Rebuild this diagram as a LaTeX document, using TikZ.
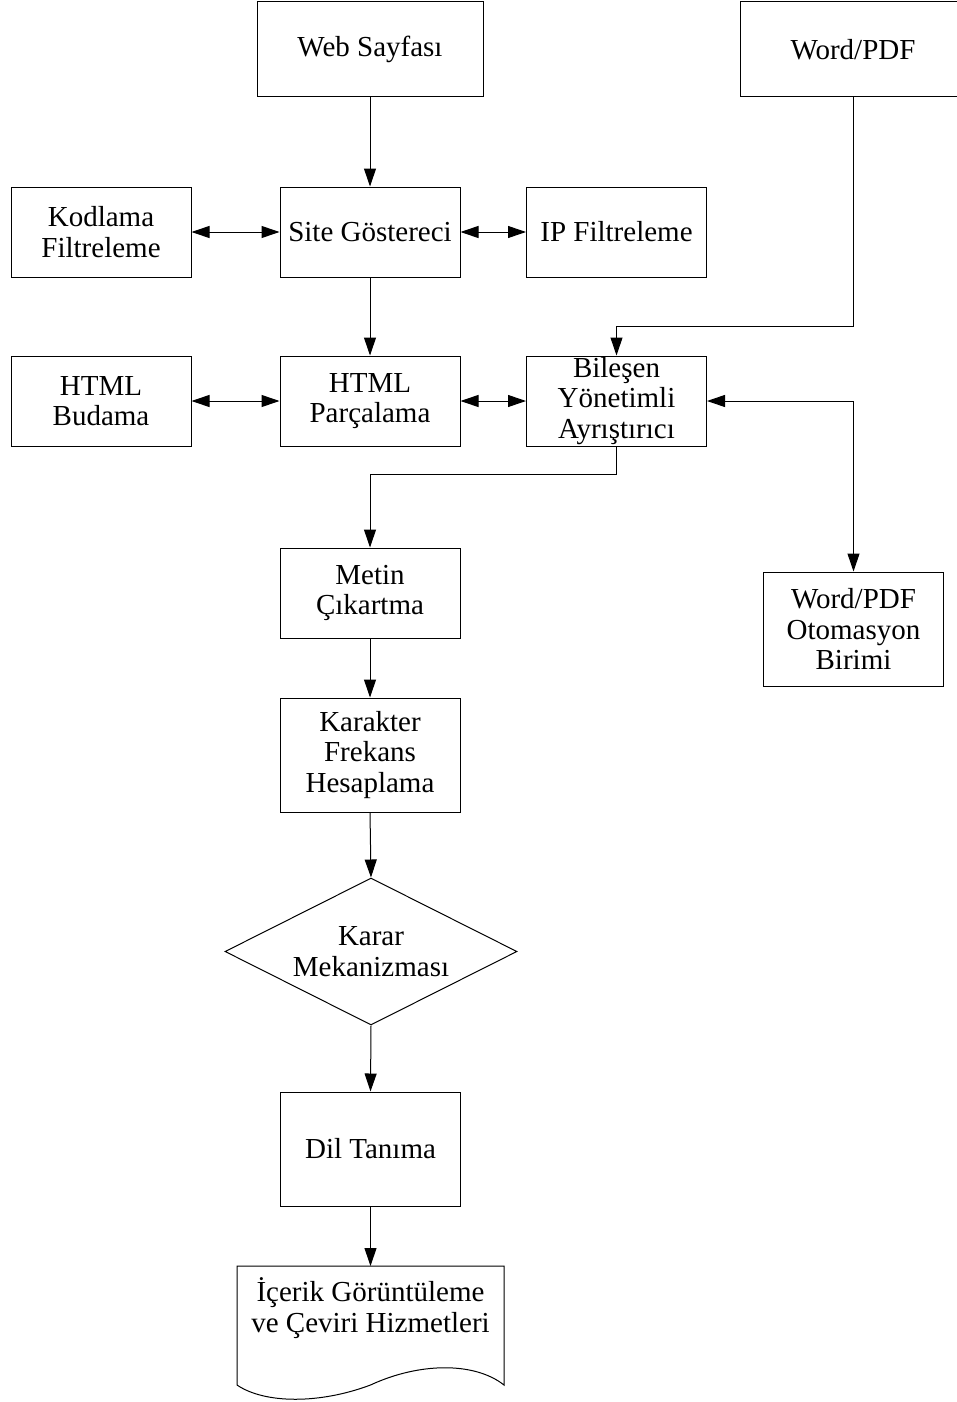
\documentclass[tikz,border=0pt]{standalone}
\usepackage{fontspec}
\setmainfont{Liberation Serif}
\usetikzlibrary{arrows.meta,shapes.geometric}

\tikzset{
  kutu/.style={draw, line width=1pt, align=center, inner sep=0pt,
    minimum width=180pt, minimum height=90pt},
  uzun/.style={kutu, minimum height=114pt},
  karar/.style={draw, line width=1pt, diamond, aspect=2, align=center, inner sep=0pt,
    minimum width=292pt, minimum height=147pt},
  ok/.style={line width=1pt, -{Triangle[length=18pt,width=12pt]}},
  ciftok/.style={line width=1pt, {Triangle[length=18pt,width=12pt]}-{Triangle[length=18pt,width=12pt]}}
}

\begin{document}
\begin{tikzpicture}[x=1pt,y=-1pt,font=\fontsize{29}{30.5}\selectfont]
\useasboundingbox (0,0) rectangle (957,1402);

% ust satir
  \node[kutu, minimum width=226pt, minimum height=95pt] (web) at (370,49.5) {Web Sayfası};
  \node[kutu, minimum width=226pt, minimum height=95pt] (word) at (853,49.5) {Word/PDF};

  \node[kutu] (kodlama) at (101,232) {Kodlama\\Filtreleme};
  \node[kutu] (site) at (370,232) {Site Göstereci};
  \node[kutu] (ip) at (616.5,232) {IP Filtreleme};

  \node[kutu] (budama) at (101,401) {HTML\\Budama};
  \node[kutu] (parcalama) at (370,401) {HTML\\Parçalama};
  \node[kutu] (bilesen) at (616.5,401) {Bileşen\\Yönetimli\\Ayrıştırıcı};

  \node[uzun] (otomasyon) at (853.5,629) {Word/PDF\\Otomasyon\\Birimi};

% orta sutun
  \node[kutu] (metin) at (370,593) {Metin\\Çıkartma};
  \node[uzun] (karakter) at (370,755) {Karakter\\Frekans\\Hesaplama};
  \node[karar] (mekanizma) at (371,951.5) {Karar\\Mekanizması};
  \node[uzun] (dil) at (370.5,1149) {Dil Tanıma};

% belge
  \draw[line width=1pt] (237,1385) -- (237,1266) -- (504,1266) -- (504,1385)
    .. controls (475,1362) and (420,1362) .. (370.5,1385)
    .. controls (320,1404) and (265,1404) .. (237,1385);
  \coordinate (belgeust) at (370.5,1266);
  \node[align=center, inner sep=0pt] (icerik) at (370.5,1308) {İçerik Görüntüleme\\ve Çeviri Hizmetleri};

% baglantilar
  \draw[ok] (web) -- (site);
  \draw[ciftok] (kodlama) -- (site);
  \draw[ciftok] (site) -- (ip);
  \draw[ok] (site) -- (parcalama);
  \draw[ciftok] (budama) -- (parcalama);
  \draw[ciftok] (parcalama) -- (bilesen);
  \draw[ok] (word.south) -- ++(0,229) -| (bilesen.north);
  \draw[ciftok] (bilesen.east) -| (otomasyon.north);
  \draw[ok] (bilesen.south) -- ++(0,28) -| (metin.north);
  \draw[ok] (metin) -- (karakter);
  \draw[ok] (karakter.south) -- (mekanizma.north);
  \draw[ok] (mekanizma.south) -- (dil.north);
  \draw[ok] (dil.south) -- (belgeust);
\end{tikzpicture}
\end{document}
